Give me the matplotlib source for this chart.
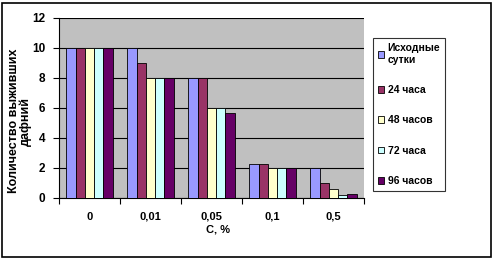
#!/usr/bin/env python
"""Survival of daphnia vs concentration"""

import matplotlib
matplotlib.use('Agg')
import matplotlib.pyplot as plt
from matplotlib.patches import Rectangle
import numpy as np

categories = ['0', '0,01', '0,05', '0,1', '0,5']
series_names = ['Исходные\nсутки', '24 часа', '48 часов', '72 часа', '96 часов']
initial = [10, 10, 8, 2.3, 2.0]
h24 = [10, 9, 8, 2.3, 1.0]
h48 = [10, 8, 6, 2.0, 0.6]
h72 = [10, 8, 6, 2.0, 0.2]
h96 = [10, 8, 5.7, 2.0, 0.3]
y_ticks = [0, 2, 4, 6, 8, 10, 12]

colors = ['#9999FF', '#993366', '#FFFFCC', '#CCFFFF', '#660066']

plt.rcParams['font.family'] = ['Liberation Sans', 'DejaVu Sans']
plt.rcParams['font.weight'] = 'bold'

W, H = 495, 259
fig = plt.figure(figsize=(W / 100, H / 100), dpi=100)
ax = fig.add_axes([59 / W, 1 - 198 / H, (364 - 59) / W, (198 - 18) / H])
ax.set_facecolor('#C0C0C0')

x = np.arange(len(categories))
width = 0.152
handles = []
for i, (vals, name) in enumerate(zip([initial, h24, h48, h72, h96], series_names)):
    b = ax.bar(x + (i - 2) * width, vals, width, color=colors[i],
               edgecolor='black', linewidth=0.6, label=name, zorder=3)
    handles.append(b)

ax.set_xlim(-0.5, len(categories) - 0.5)
ax.set_ylim(0, 12)
ax.set_yticks(y_ticks)
ax.set_yticklabels([str(v) for v in y_ticks], fontsize=8.5, fontweight='bold')
ax.yaxis.grid(True, color='black', linewidth=0.8, zorder=1)
ax.set_axisbelow(True)

# category labels centred, tick marks on the boundaries
ax.set_xticks(x)
ax.set_xticklabels(categories, fontsize=8, fontweight='bold')
ax.tick_params(axis='x', length=0, pad=10)
ax.set_xticks(np.arange(-0.5, len(categories)), minor=True)
ax.tick_params(axis='x', which='minor', length=4, width=0.8, direction='out')
ax.tick_params(axis='y', length=4, width=0.8, direction='out', pad=6)

for s in ['top', 'right']:
    ax.spines[s].set_visible(False)
for s in ['left', 'bottom']:
    ax.spines[s].set_linewidth(0.8)

fig.text(20 / W, 1 - 121 / H, 'Количество выживших\nдафний', rotation=90,
         ha='center', va='center', fontsize=9, fontweight='bold',
         multialignment='center', linespacing=1.0)
fig.text(218 / W, 1 - 230 / H, 'C, %', ha='center', va='center',
         fontsize=8, fontweight='bold')

leg = fig.legend(handles=handles, loc='upper left',
                 bbox_to_anchor=(373 / W, 1 - 38 / H),
                 fontsize=7.5, frameon=True, fancybox=False,
                 edgecolor='black', handlelength=0.6, handleheight=0.6,
                 handletextpad=0.3, labelspacing=1.95, borderpad=0.5,
                 borderaxespad=0)
leg.get_frame().set_linewidth(0.8)
for t in leg.get_texts():
    t.set_fontweight('bold')

fig.patches.append(Rectangle((1.5 / W, 2.5 / H), 489 / W, 254 / H,
                             transform=fig.transFigure, fill=False,
                             edgecolor='black', linewidth=1.2))

fig.savefig('out.png', dpi=100)
